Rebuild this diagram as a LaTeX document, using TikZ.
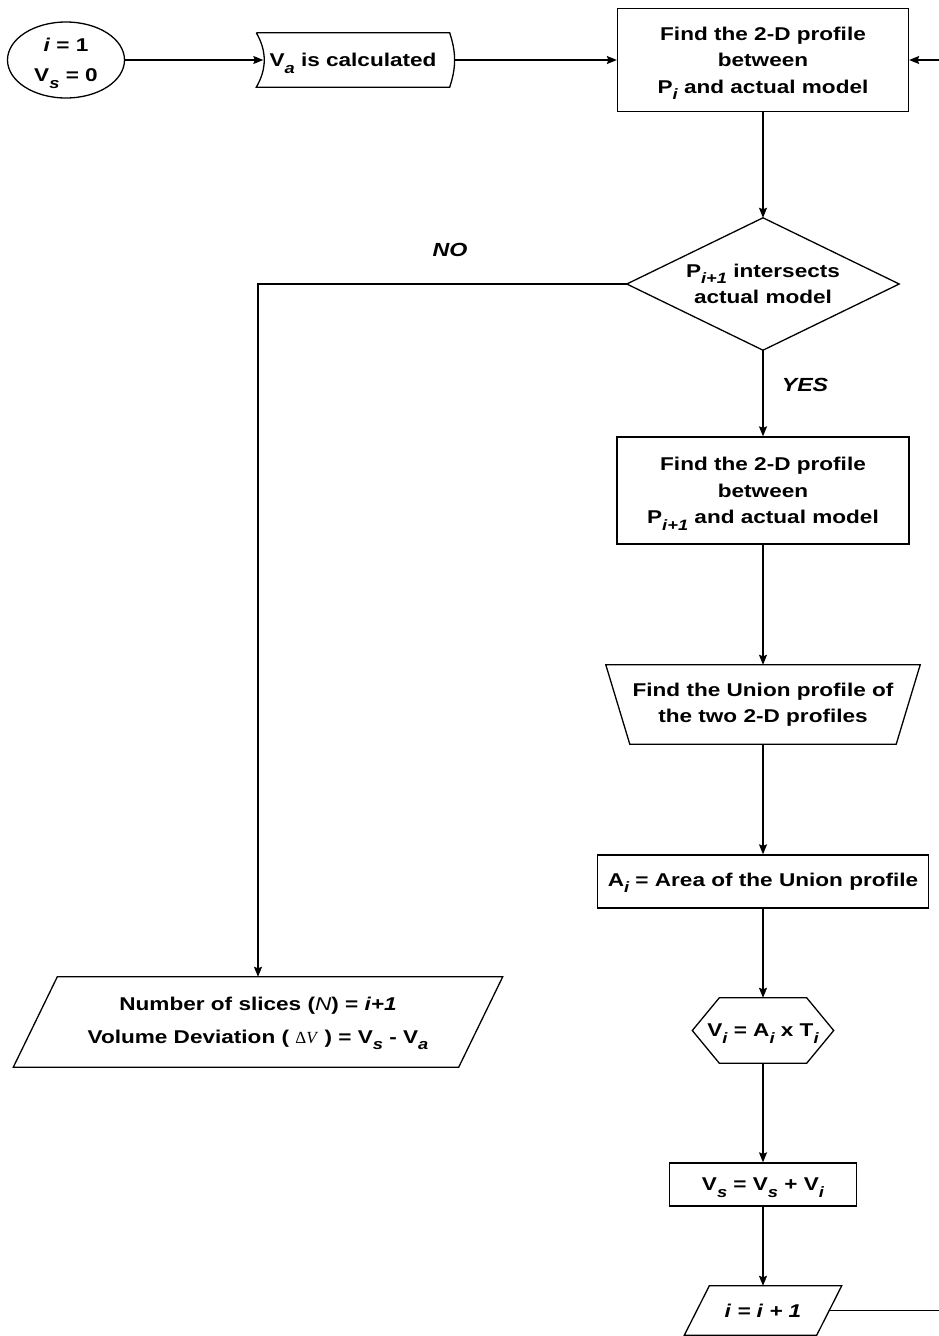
\documentclass[tikz,border=0pt]{standalone}
\usepackage{fontspec}
\setmainfont{Liberation Sans}[FakeStretch=1.22]
\newfontfamily\serifgreek{Liberation Serif}
\usepackage{tikz}
\usetikzlibrary{arrows.meta,shapes.geometric}
\newcommand{\sbs}[1]{\raisebox{-6.5pt}[0pt][0pt]{\fontsize{15}{15}\selectfont\itshape #1}}

\begin{document}
\begin{tikzpicture}[x=1pt, y=-1pt,
    every node/.style={font=\fontsize{18.5}{26.5}\selectfont\bfseries, align=center},
    proc/.style={draw, line width=1.3pt, inner sep=0pt},
    holder/.style={inner sep=0pt},
    outline/.style={line width=1.3pt},
    lbl/.style={font=\fontsize{19}{20}\selectfont\bfseries\itshape},
    arr/.style={-{Stealth[length=10pt,width=8pt,inset=1.5pt]}, line width=1.3pt}
]
  \useasboundingbox (0,0) rectangle (939,1336);

  % top row
  \node[ellipse, draw, outline, inner sep=0pt, minimum width=117pt, minimum height=76pt,
        font=\fontsize{18.5}{30}\selectfont\bfseries] (init) at (66,60)
        {\textit{i} = 1\\V\sbs{s} = 0};
  \node[holder, minimum width=193pt, minimum height=54pt] (va) at (353,60)
        {V\sbs{a} is calculated};
  \draw[outline] (va.north west) -- (va.north east) to[bend left=18] (va.south east)
        -- (va.south west) to[bend right=30] (va.north west);
  \node[proc, minimum width=291pt, minimum height=103pt] (prof1) at (763,60)
        {Find the 2-D profile\\between\\P\sbs{i} and actual model};

  % decision
  \node[holder, minimum width=272pt, minimum height=132pt] (test) at (763,284)
        {P\sbs{i+1} intersects\\actual model};
  \draw[outline] (test.north) -- (test.east) -- (test.south) -- (test.west) -- cycle;
  \node[lbl] (no) at (450,250) {NO};
  \node[lbl] (yes) at (805,385) {YES};

  % right column
  \node[proc, minimum width=292pt, minimum height=107pt] (prof2) at (763,490.5)
        {Find the 2-D profile\\between\\P\sbs{i+1} and actual model};
  \node[holder, minimum width=314pt, minimum height=79pt] (union) at (763,704.5)
        {Find the Union profile of\\the two 2-D profiles};
  \draw[outline] (union.north west) -- (union.north east) -- ([xshift=-24pt]union.south east)
        -- ([xshift=24pt]union.south west) -- cycle;
  \node[proc, minimum width=331pt, minimum height=53pt] (area) at (763,881.5)
        {A\sbs{i} = Area of the Union profile};
  \node[holder, minimum width=141pt, minimum height=65pt] (vol) at (763,1030.5)
        {V\sbs{i} = A\sbs{i} x T\sbs{i}};
  \draw[outline] (vol.west) -- ([xshift=27pt]vol.north west) -- ([xshift=-27pt]vol.north east)
        -- (vol.east) -- ([xshift=-27pt]vol.south east) -- ([xshift=27pt]vol.south west) -- cycle;
  \node[proc, minimum width=187pt, minimum height=43pt] (vsum) at (763,1184.5)
        {V\sbs{s} = V\sbs{s} + V\sbs{i}};
  \node[holder, minimum width=132pt, minimum height=49pt] (inc) at (763,1310.5)
        {\itshape i = i + 1};
  \draw[outline] ([xshift=12.5pt]inc.north west) -- ([xshift=12.5pt]inc.north east)
        -- ([xshift=-12.5pt]inc.south east) -- ([xshift=-12.5pt]inc.south west) -- cycle;

  % result
  \node[holder, minimum width=445pt, minimum height=90pt,
        font=\fontsize{18.5}{33}\selectfont\bfseries] (result) at (258,1022)
        {Number of slices ({\mdseries\itshape N}) = {\itshape i+1}\\
         Volume Deviation ( {\serifgreek\mdseries\fontsize{17}{17}\selectfont Δ\textit{V}} ) = V\sbs{s} - V\sbs{a}};
  \draw[outline] ([xshift=22pt]result.north west) -- ([xshift=22pt]result.north east)
        -- ([xshift=-22pt]result.south east) -- ([xshift=-22pt]result.south west) -- cycle;

  % connectors
  \coordinate (back) at (950,60);
  \draw[arr] (init.east) -- ([xshift=7pt]va.west);
  \draw[arr] ([xshift=5pt]va.east) -- (prof1.west);
  \draw[arr] (prof1) -- (test);
  \draw[arr] (test) -- (prof2);
  \draw[arr] (test.west) -| (result.north);
  \draw[arr] (prof2) -- (union.north);
  \draw[arr] (union.south) -- (area);
  \draw[arr] (area) -- (vol.north);
  \draw[arr] (vol.south) -- (vsum);
  \draw[arr] (vsum) -- (inc.north);
  \draw[arr] (inc.east) -| (back) -- (prof1.east);
\end{tikzpicture}
\end{document}
